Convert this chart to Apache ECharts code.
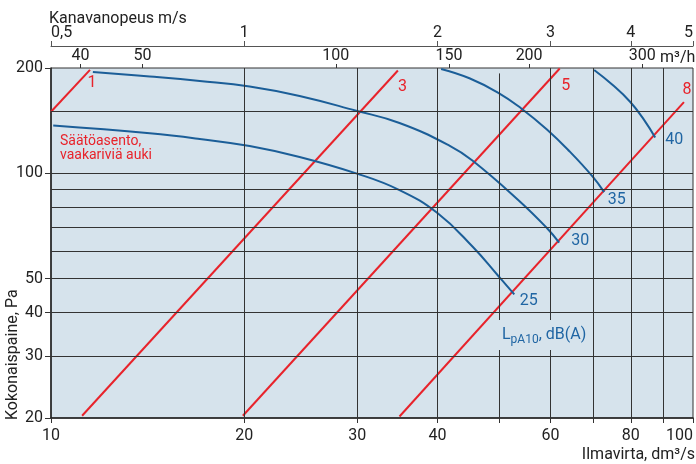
<!DOCTYPE html>
<html><head><meta charset="utf-8">
<script src="https://cdn.jsdelivr.net/npm/echarts@6/dist/echarts.min.js"></script>
<style>html,body{margin:0;padding:0;background:#fff}#c{width:696px;height:464px}</style>
</head><body><div id="c"></div>
<script>
// ---- data ----
const xLabelValues = [10, 20, 30, 40, 60, 80, 100];
const xTickValues = [10, 20, 30, 40, 50, 60, 70, 80, 90, 100];
const yLabelValues = [20, 30, 40, 50, 100, 200];
const m3hLabelValues = [40, 50, 100, 150, 200, 300];
const msLabelValues = [0.5, 1, 2, 3, 4, 5];
const xGridValues = [20, 30, 40, 60, 70, 80, 90];
const yGridValues = [30, 40, 50, 60, 70, 80, 90, 100, 150];

const damperNames = ['1', '3', '5', '8'];
const damper1 = [[10, 150], [11.5, 197.6]];
const damper3 = [[11.18, 20.3], [34.7, 196.7]];
const damper5 = [[19.9, 20.3], [62, 199.3]];
const damper8 = [[34.9, 20.2], [96.8, 159.8]];

const soundNames = ['25', '30', '35', '40'];
const sound25 = [[10.08, 136.9], [14.25, 130.1], [17.05, 125.4], [20.39, 119.7], [24.39, 111.4], [29.88, 100.0], [34.90, 89.6], [40.03, 76.9], [45.38, 61.7], [49.75, 50.9], [52.68, 45.1]];
const sound30 = [[11.62, 194.8], [14.25, 189.1], [17.05, 183.6], [20.39, 177.1], [24.39, 166.4], [29.88, 151.0], [34.90, 139.3], [41.74, 120.1], [45.33, 108.8], [53.63, 83.4], [59.21, 69.8], [61.88, 63.4]];
const sound35 = [[40.52, 198.7], [44.85, 186.9], [49.75, 169.9], [53.96, 153.5], [59.22, 133.5], [64.13, 115.9], [69.73, 98.0], [72.71, 88.4]];
const sound40 = [[70.15, 197.4], [74.82, 179.4], [79.80, 160.2], [83.90, 142.2], [87.31, 126.6]];

// ---- styles ----
const FONT = 'Roboto';
const RED = '#e8232b', BLUE = '#1b5e98', BLUE_T = '#1f65a3', BG = '#d6e3ec', GRID = '#333', TXT = '#222';
const damperSets = [damper1, damper3, damper5, damper8];
const damperOffsets = [[2, 13], [4.5, 16], [6, 17], [3, -12]];
const soundSets = [sound25, sound30, sound35, sound40];
const soundOffsets = [[14.5, 7], [21, -2], [12.5, 8], [19, 2]];

function lineSeries(name, data, color, off, smooth) {
  return {
    type: 'line', name: name, data: data, xAxisIndex: 0, yAxisIndex: 0,
    showSymbol: false, symbol: 'none', smooth: smooth, silent: true, z: 3,
    lineStyle: { color: color, width: 2 },
    markPoint: {
      symbol: 'circle', symbolSize: 0, silent: true, animation: false,
      data: [{ coord: data[data.length - 1], value: name }],
      label: { show: true, position: 'inside', formatter: name, color: color === RED ? RED : BLUE_T, fontSize: 16, fontFamily: FONT, offset: off }
    }
  };
}

const series = [{
  type: 'line', data: [[10, 20]], showSymbol: false, symbol: 'none', silent: true, z: 1,
  lineStyle: { opacity: 0 },
  markLine: {
    symbol: ['none', 'none'], silent: true, animation: false, label: { show: false },
    lineStyle: { color: GRID, width: 1, type: 'solid' },
    emphasis: { disabled: true },
    data: xGridValues.map(v => ({ xAxis: v }))
      .concat(yGridValues.map(v => ({ yAxis: v })))
      .concat([[{ coord: [50, 20] }, { coord: [50, 193] }]])
  }
}];
damperSets.forEach((d, i) => series.push(lineSeries(damperNames[i], d, RED, damperOffsets[i], false)));
soundSets.forEach((d, i) => series.push(lineSeries(soundNames[i], d, BLUE, soundOffsets[i], 0.45)));

const chart = echarts.init(document.getElementById('c'), null, { renderer: 'canvas' });
chart.setOption({
  animation: false,
  backgroundColor: '#fff',
  textStyle: { fontFamily: FONT },
  grid: { left: 51, right: 2, top: 68, bottom: 46, show: true, backgroundColor: BG, borderColor: GRID, borderWidth: 1 },
  xAxis: [{
    type: 'log', logBase: 10, min: 10, max: 100, position: 'bottom',
    axisLine: { show: true, lineStyle: { color: TXT, width: 1.5 } },
    axisTick: { show: true, customValues: xTickValues, length: 5, lineStyle: { color: GRID } },
    axisLabel: { customValues: xLabelValues, margin: 10, fontSize: 16, color: TXT, fontFamily: FONT, alignMaxLabel: 'right' },
    splitLine: { show: false }, minorTick: { show: false }
  }, {
    type: 'log', logBase: 10, min: 36, max: 360, position: 'top', offset: 0,
    axisLine: { show: false },
    axisTick: { show: true, customValues: m3hLabelValues, length: 4, lineStyle: { color: GRID } },
    axisLabel: { customValues: m3hLabelValues, margin: 4, fontSize: 16, color: TXT, fontFamily: FONT },
    splitLine: { show: false }
  }, {
    type: 'log', logBase: 10, min: 0.5, max: 5, position: 'top', offset: 22,
    axisLine: { show: true, lineStyle: { color: '#555', width: 1 } },
    axisTick: { show: true, customValues: msLabelValues, length: 5, lineStyle: { color: '#555' } },
    axisLabel: { customValues: msLabelValues, margin: 5, fontSize: 16, color: TXT, fontFamily: FONT,
      alignMinLabel: 'left', alignMaxLabel: 'right',
      formatter: v => String(v).replace('.', ',') },
    splitLine: { show: false }
  }],
  yAxis: [{
    type: 'log', logBase: 10, min: 20, max: 200,
    axisLine: { show: true, lineStyle: { color: TXT, width: 1.5 } },
    axisTick: { show: true, customValues: yLabelValues, length: 6, lineStyle: { color: GRID } },
    axisLabel: { customValues: yLabelValues, margin: 8, fontSize: 16, color: TXT, fontFamily: FONT },
    splitLine: { show: false }, minorTick: { show: false }
  }],
  series: series,
  graphic: [
    { type: 'text', x: 49, y: 19, silent: true, style: { text: 'Kanavanopeus m/s', font: '16px Roboto', fill: TXT, align: 'left', verticalAlign: 'middle' } },
    { type: 'text', x: 660, y: 58, silent: true, style: { text: 'm³/h', font: '16px Roboto', fill: TXT, align: 'left', verticalAlign: 'middle' } },
    { type: 'text', x: 695, y: 455, silent: true, style: { text: 'Ilmavirta, dm³/s', font: '16px Roboto', fill: TXT, align: 'right', verticalAlign: 'middle' } },
    { type: 'text', x: 13, y: 420, rotation: Math.PI / 2, silent: true, style: { text: 'Kokonaispaine, Pa', font: '16px Roboto', fill: TXT, align: 'left', verticalAlign: 'middle' } },
    { type: 'text', x: 60, y: 134, silent: true, z: 10, style: { text: 'Säätöasento,\nvaakariviä auki', font: '14px Roboto', lineHeight: 14.5, fill: RED, align: 'left', verticalAlign: 'top' } },
    { type: 'text', x: 497, y: 320, silent: true, z: 10, style: {
        text: '{a|L}{s|pA10}{a|, dB(A)}', align: 'left', verticalAlign: 'top',
        backgroundColor: BG, padding: [4, 4, 4, 5],
        rich: { a: { fontSize: 16, fontFamily: FONT, fill: BLUE_T }, s: { fontSize: 12, fontFamily: FONT, fill: BLUE_T, padding: [10, 0, 0, 0] } }
      } }
  ]
});
</script></body></html>
